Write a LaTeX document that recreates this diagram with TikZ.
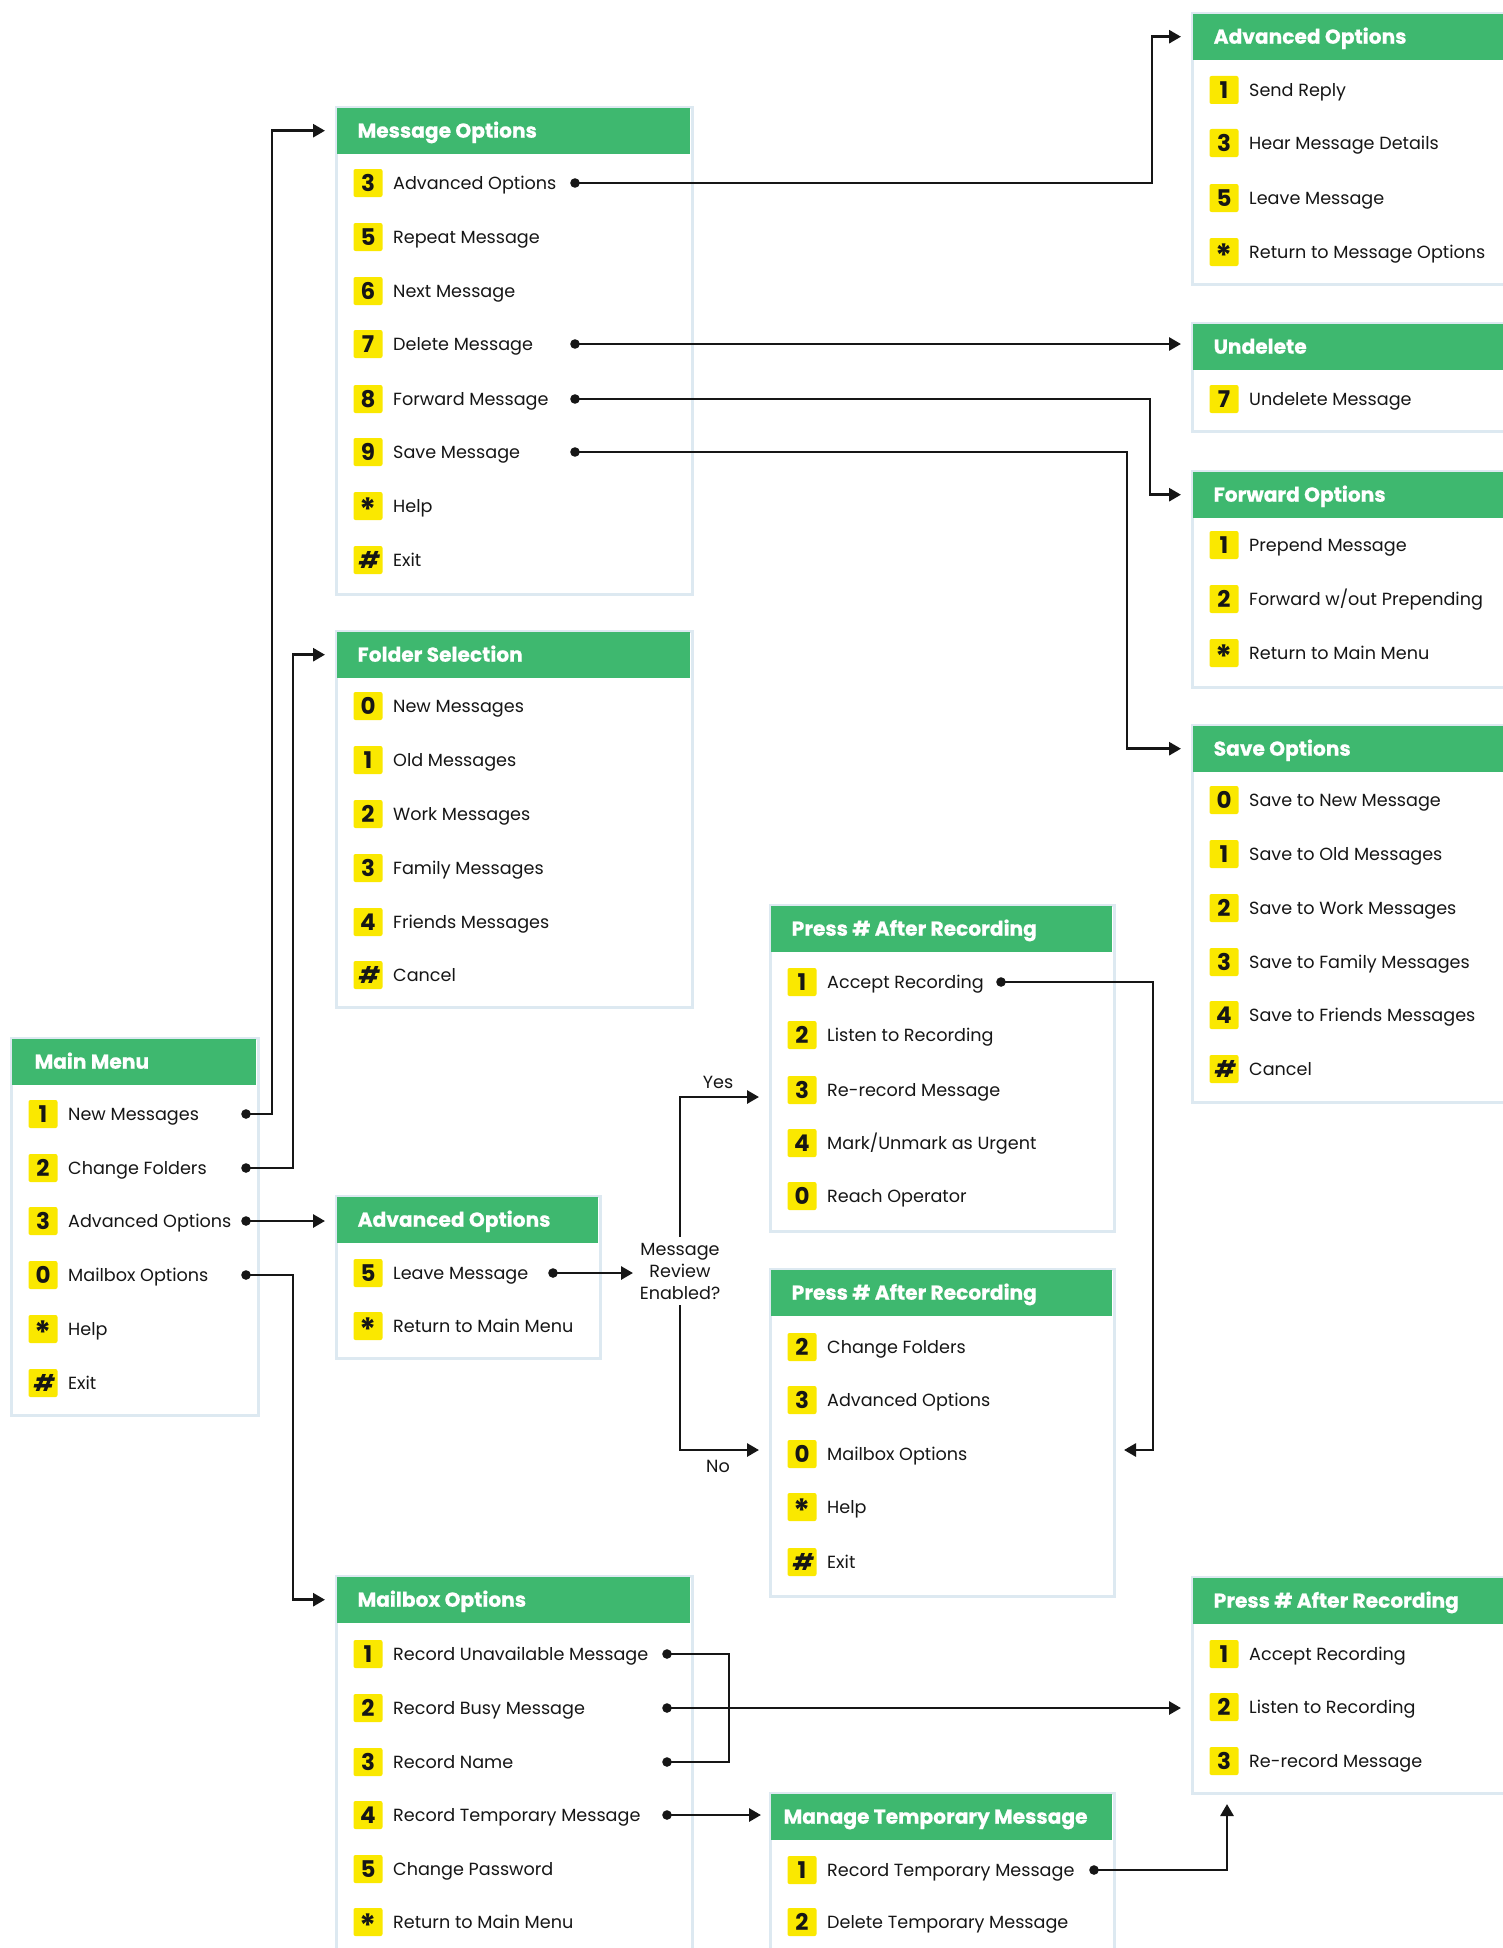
\documentclass[tikz,border=0pt]{standalone}
\usepackage{fontspec}
\setmainfont{Poppins}
\usetikzlibrary{arrows.meta}
\definecolor{hgreen}{RGB}{62,184,111}
\definecolor{byellow}{RGB}{250,232,0}
\definecolor{bline}{RGB}{221,233,241}
\definecolor{ink}{RGB}{22,22,22}
\newcommand\itemfont{\fontsize{17.6}{22}\selectfont}
\newcommand\hdrfont{\bfseries\fontsize{20.2}{24}\selectfont\addfontfeature{FakeBold=0.6}}
\newcommand\keyfont{\bfseries\fontsize{23}{26}\selectfont}
\newcommand\kst{\raisebox{-7pt}{\fontsize{32}{32}\selectfont *}}
\newcommand\khs{{\addfontfeature{FakeSlant=0.18}\#}}
\tikzset{
  boxst/.style={rectangle, draw=bline, line width=3pt, fill=white, anchor=north west, inner sep=0pt},
  hdrst/.style={rectangle, fill=hgreen, anchor=north west, inner sep=0pt, minimum height=46pt},
  hdrtext/.style={anchor=west, inner sep=0pt, font=\hdrfont, text=white, text height=14pt, text depth=0pt},
  keyst/.style={rectangle, fill=byellow, rounded corners=2pt, minimum width=29pt, minimum height=28pt, inner sep=0pt, font=\keyfont, text=ink, text height=16.2pt, text depth=0pt},
  itemst/.style={anchor=west, inner sep=0pt, font=\itemfont, text=ink, text height=12.5pt, text depth=0pt},
  lblst/.style={inner sep=0pt, font=\itemfont, text=ink},
  conn/.style={line width=2.8pt, draw=ink},
  arr/.style={conn, -{Triangle[length=12pt,width=13pt]}},
}
\newcommand\menubox[7]{%
  \node[boxst, minimum width=#4pt, minimum height=#5pt] (#1) at (#2,#3) {};
  \node[hdrst, minimum width=#4pt-3pt] (#1h) at ([xshift=1.5pt,yshift=-1.5pt]#2,#3) {};
  \node[hdrtext] (#1t) at ([xshift=#7pt]#1h.west) {#6};
}
\newcommand\itm[5]{%
  \node[keyst] (#1k) at (#2+33,#3) {#4};
  \node[itemst] (#1) at (#2+58,#3) {#5};
}
\begin{document}
\begin{tikzpicture}[x=1pt,y=-1pt]
\useasboundingbox (0,0) rectangle (1502,1948);
\fill[white] (0,0) rectangle (1502,1948);

% Main Menu
\menubox{mm}{10}{1037}{247}{377}{Main Menu}{23}
\itm{mm1}{10}{1114}{1}{New Messages}
\itm{mm2}{10}{1168}{2}{Change Folders}
\itm{mm3}{10}{1221}{3}{Advanced Options}
\itm{mm4}{10}{1275}{0}{Mailbox Options}
\itm{mm5}{10}{1329}{\kst}{Help}
\itm{mm6}{10}{1383}{\khs}{Exit}

% Message Options
\menubox{mo}{335}{106}{356}{487}{Message Options}{21}
\itm{mo1}{335}{183}{3}{Advanced Options}
\itm{mo2}{335}{237}{5}{Repeat Message}
\itm{mo3}{335}{291}{6}{Next Message}
\itm{mo4}{335}{344}{7}{Delete Message}
\itm{mo5}{335}{399}{8}{Forward Message}
\itm{mo6}{335}{452}{9}{Save Message}
\itm{mo7}{335}{506}{\kst}{Help}
\itm{mo8}{335}{560}{\khs}{Exit}

% Folder Selection
\menubox{fs}{335}{630}{356}{376}{Folder Selection}{21}
\itm{fs1}{335}{706}{0}{New Messages}
\itm{fs2}{335}{760}{1}{Old Messages}
\itm{fs3}{335}{814}{2}{Work Messages}
\itm{fs4}{335}{868}{3}{Family Messages}
\itm{fs5}{335}{922}{4}{Friends Messages}
\itm{fs6}{335}{975}{\khs}{Cancel}

% Advanced Options (left)
\menubox{al}{335}{1195}{264}{162}{Advanced Options}{21}
\itm{al1}{335}{1273}{5}{Leave Message}
\itm{al2}{335}{1326}{\kst}{Return to Main Menu}

% Mailbox Options
\menubox{mb}{335}{1575}{356}{390}{Mailbox Options}{21}
\itm{mb1}{335}{1654}{1}{Record Unavailable Message}
\itm{mb2}{335}{1708}{2}{Record Busy Message}
\itm{mb3}{335}{1762}{3}{Record Name}
\itm{mb4}{335}{1815}{4}{Record Temporary Message}
\itm{mb5}{335}{1869}{5}{Change Password}
\itm{mb6}{335}{1922}{\kst}{Return to Main Menu}

% Advanced Options (top right)
\menubox{at}{1191}{12}{330}{271}{Advanced Options}{21}
\itm{at1}{1191}{90}{1}{Send Reply}
\itm{at2}{1191}{143}{3}{Hear Message Details}
\itm{at3}{1191}{198}{5}{Leave Message}
\itm{at4}{1191}{252}{\kst}{Return to Message Options}

% Undelete
\menubox{ud}{1191}{322}{330}{108}{Undelete}{21}
\itm{ud1}{1191}{399}{7}{Undelete Message}

% Forward Options
\menubox{fo}{1191}{470}{330}{216}{Forward Options}{21}
\itm{fo1}{1191}{545}{1}{Prepend Message}
\itm{fo2}{1191}{599}{2}{Forward w/out Prepending}
\itm{fo3}{1191}{653}{\kst}{Return to Main Menu}

% Save Options
\menubox{so}{1191}{724}{330}{377}{Save Options}{21}
\itm{so1}{1191}{800}{0}{Save to New Message}
\itm{so2}{1191}{854}{1}{Save to Old Messages}
\itm{so3}{1191}{908}{2}{Save to Work Messages}
\itm{so4}{1191}{962}{3}{Save to Family Messages}
\itm{so5}{1191}{1015}{4}{Save to Friends Messages}
\itm{so6}{1191}{1069}{\khs}{Cancel}

% Press # After Recording (upper)
\menubox{pu}{769}{904}{344}{326}{Press \# After Recording}{21}
\itm{pu1}{769}{982}{1}{Accept Recording}
\itm{pu2}{769}{1035}{2}{Listen to Recording}
\itm{pu3}{769}{1090}{3}{Re-record Message}
\itm{pu4}{769}{1143}{4}{Mark/Unmark as Urgent}
\itm{pu5}{769}{1196}{0}{Reach Operator}

% Press # After Recording (lower)
\menubox{pl}{769}{1268}{344}{327}{Press \# After Recording}{21}
\itm{pl1}{769}{1347}{2}{Change Folders}
\itm{pl2}{769}{1400}{3}{Advanced Options}
\itm{pl3}{769}{1454}{0}{Mailbox Options}
\itm{pl4}{769}{1507}{\kst}{Help}
\itm{pl5}{769}{1562}{\khs}{Exit}

% Press # After Recording (bottom right)
\menubox{pb}{1191}{1576}{330}{216}{Press \# After Recording}{21}
\itm{pb1}{1191}{1654}{1}{Accept Recording}
\itm{pb2}{1191}{1707}{2}{Listen to Recording}
\itm{pb3}{1191}{1761}{3}{Re-record Message}

% Manage Temporary Message
\menubox{mt}{769}{1792}{344}{170}{Manage Temporary Message}{13}
\itm{mt1}{769}{1870}{1}{Record Temporary Message}
\itm{mt2}{769}{1922}{2}{Delete Temporary Message}

% decision
\node[lblst, align=center, font=\fontsize{17.6}{22}\selectfont, inner ysep=6pt] (dec) at (680,1271) {Message\\Review\\Enabled?};
\node[lblst] (yes) at (718,1082) {Yes};
\node[lblst] (no) at (718,1466) {No};

% dot coordinates
\coordinate (mm1d) at (246,1114);
\coordinate (mm2d) at (246,1168);
\coordinate (mm3d) at (246,1221);
\coordinate (mm4d) at (246,1275);
\coordinate (mo1d) at (575,183);
\coordinate (mo4d) at (575,344);
\coordinate (mo5d) at (575,399);
\coordinate (mo6d) at (575,452);
\coordinate (al1d) at (553,1273);
\coordinate (pu1d) at (1001,982);
\coordinate (mb1d) at (667,1654);
\coordinate (mb2d) at (667,1708);
\coordinate (mb3d) at (667,1762);
\coordinate (mb4d) at (667,1815);
\coordinate (mt1d) at (1094,1870);
% arrow end coordinates
\coordinate (cT) at (325,1221);
\coordinate (fT) at (1181,344);
\coordinate (iT) at (633,1273);
\coordinate (yT) at (759,1097);
\coordinate (nT) at (759,1450);
\coordinate (jT) at (1124,1450);
\coordinate (kT) at (1181,1708);
\coordinate (lT) at (761,1815);
\coordinate (mT) at (1227,1804);

% connectors
\draw[arr] (mm1d) -- ++(26,0) |- ([xshift=-11.5pt]moh.west);
\draw[arr] (mm2d) -- ++(47,0) |- ([xshift=-11.5pt]fsh.west);
\draw[arr] (mm3d) -- (cT);
\draw[arr] (mm4d) -- ++(47,0) |- ([xshift=-11.5pt]mbh.west);
\draw[arr] (mo1d) -- ++(577,0) |- ([xshift=-11.5pt]ath.west);
\draw[arr] (mo4d) -- (fT);
\draw[arr] (mo5d) -- ++(575,0) |- ([xshift=-11.5pt]foh.west);
\draw[arr] (mo6d) -- ++(552,0) |- ([xshift=-11.5pt]soh.west);
\draw[arr] (al1d) -- (iT);
\draw[arr] (dec.north) |- (yT);
\draw[arr] (dec.south) |- (nT);
\draw[arr] (pu1d) -- ++(152,0) |- (jT);
\draw[conn] (mb1d) -- ++(62,0) |- (mb3d);
\draw[arr] (mb2d) -- (kT);
\draw[arr] (mb4d) -- (lT);
\draw[arr] (mt1d) -| (mT);

% dots
\foreach \d in {mm1d,mm2d,mm3d,mm4d,mo1d,mo4d,mo5d,mo6d,al1d,pu1d,mb1d,mb2d,mb3d,mb4d,mt1d}
  \fill[ink] (\d) circle (4.8pt);
\end{tikzpicture}
\end{document}
